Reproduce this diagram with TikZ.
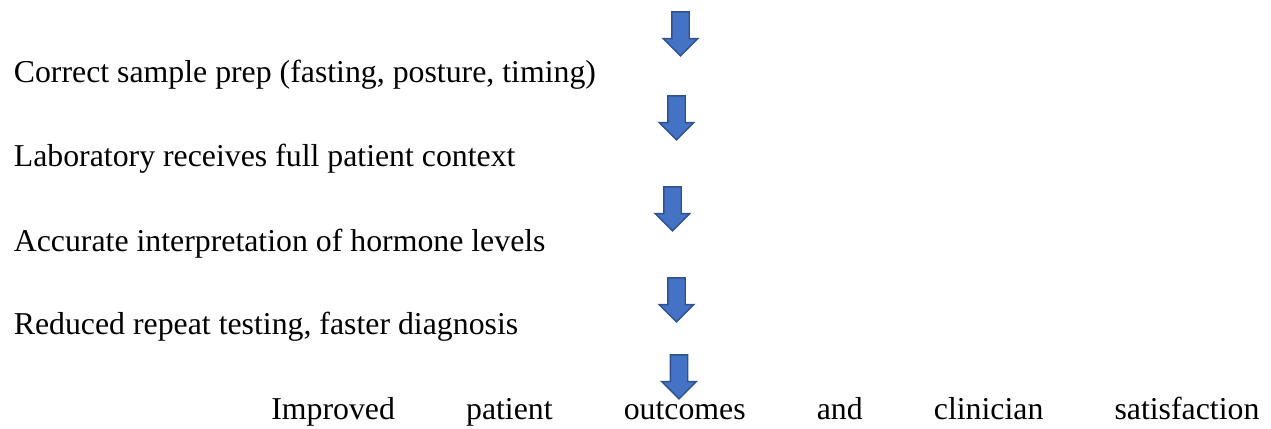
\documentclass[tikz,border=0pt]{standalone}
\usepackage{fontspec}
\setmainfont{LiberationSerif}[
  Extension=.ttf,
  UprightFont=*-Regular,
  BoldFont=*-Bold,
  ItalicFont=*-Italic
]
\usepackage{xcolor}
\usetikzlibrary{positioning, shapes.arrows}
\definecolor{arrowfill}{HTML}{4472C4}
\definecolor{arrowline}{HTML}{2F528F}

\begin{document}
\begin{tikzpicture}[
      stage/.style={
        anchor=base west,
        inner sep=0pt,
        font=\fontsize{18.1}{21}\selectfont
      },
      flowarrow/.style={
        single arrow,
        shape border rotate=270,
        anchor=tip,
        fill=arrowfill,
        draw=arrowline,
        line width=0.85pt,
        inner sep=0.16cm,
        minimum height=0.88cm,
        single arrow head extend=0.17cm,
        single arrow tip angle=90
      }
    ]
    \useasboundingbox (0,0) rectangle (25.42,8.58);

    % Place text steps
    \node [stage] (prep) at (0.27,6.92) {Correct sample prep (fasting, posture, timing)};
    \node [stage] (context) at (0.27,5.24) {Laboratory receives full patient context};
    \node [stage] (interp) at (0.27,3.54) {Accurate interpretation of hormone levels};
    \node [stage] (repeat) at (0.27,1.88) {Reduced repeat testing, faster diagnosis};
    \node [stage] (outcome) at (5.42,0.18) {\makebox[19.76cm][s]{Improved patient outcomes and clinician satisfaction}};

    % Block arrows between the steps
    \node [flowarrow] (arrow1) at (13.61,7.44) {};
    \node [flowarrow] (arrow2) at (13.53,5.76) {};
    \node [flowarrow] (arrow3) at (13.45,3.94) {};
    \node [flowarrow] (arrow4) at (13.53,2.12) {};
    \node [flowarrow] (arrow5) at (13.58,0.58) {};
  \end{tikzpicture}
\end{document}
